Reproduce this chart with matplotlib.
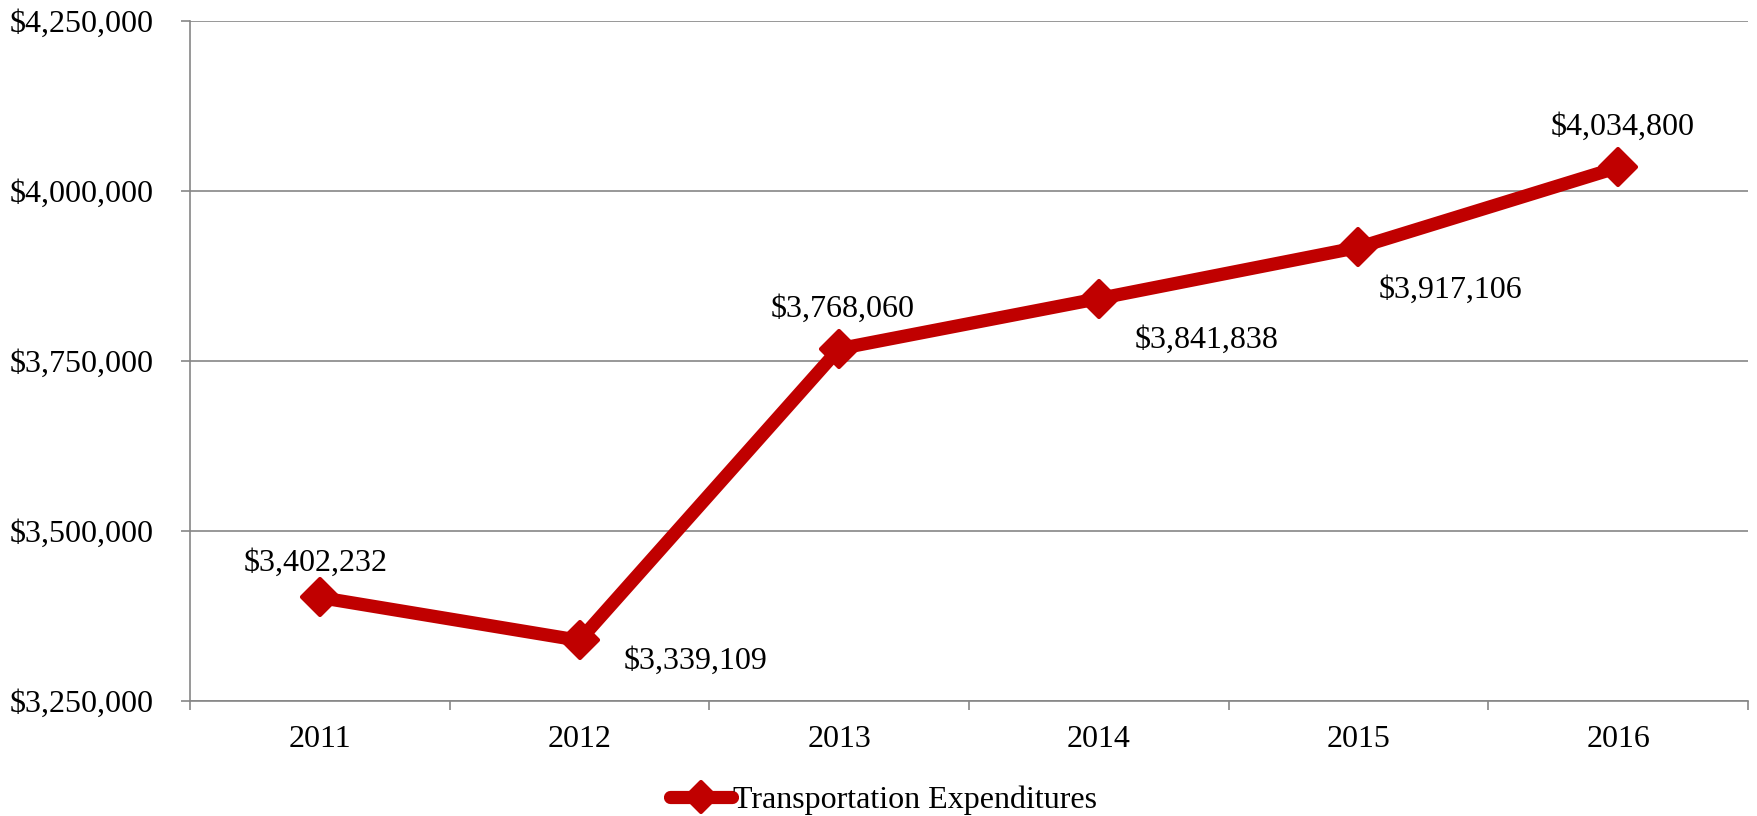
import matplotlib
matplotlib.use("Agg")
import matplotlib.pyplot as plt
from matplotlib.markers import MarkerStyle
from matplotlib.ticker import FuncFormatter, FixedLocator

years = ["2011", "2012", "2013", "2014", "2015", "2016"]
expenditures = [3402232, 3339109, 3768060, 3841838, 3917106, 4034800]
series_name = "Transportation Expenditures"
y_ticks = [3250000, 3500000, 3750000, 4000000, 4250000]

# label offsets in pixels (dx, dy) relative to each marker, baseline-anchored
label_offsets = [(-4, 27), (116, -28), (3, 32), (108, -49), (92, -50), (4, 33)]

RED = "#C00000"
GRAY = "#868686"
FONT = "Liberation Serif"
FS = 23

plt.rcParams["font.family"] = [FONT, "DejaVu Serif"]

fig = plt.figure(figsize=(17.57, 8.16), dpi=100)
ax = fig.add_axes([190 / 1757, 1 - 701 / 816, (1748 - 190) / 1757, (701 - 21) / 816])

x = list(range(len(years)))
mk = MarkerStyle("D", joinstyle="round")
ax.plot(x, expenditures, color=RED, lw=9.5, solid_joinstyle="round", solid_capstyle="round",
        marker=mk, markersize=18.5, markeredgewidth=3, markerfacecolor=RED,
        markeredgecolor=RED, label=series_name, zorder=3)

for xi, v, (dx, dy) in zip(x, expenditures, label_offsets):
    ax.annotate(f"${v:,.0f}", (xi, v), xytext=(dx, dy), textcoords="offset pixels",
                ha="center", va="baseline", fontsize=FS, color="black", zorder=4)

ax.set_xlim(-0.5, len(years) - 0.5)
ax.set_ylim(y_ticks[0], y_ticks[-1])
ax.yaxis.set_major_locator(FixedLocator(y_ticks))
ax.yaxis.set_major_formatter(FuncFormatter(lambda v, p: f"${v:,.0f}"))
ax.set_xticks(x)
ax.set_xticklabels(years)
ax.set_xticks([i - 0.5 for i in range(len(years) + 1)], minor=True)

ax.tick_params(axis="x", which="major", length=0, pad=17, labelsize=FS)
ax.tick_params(axis="x", which="minor", length=6.5, width=1.2, color=GRAY, direction="out")
ax.tick_params(axis="y", which="major", length=6.5, width=1.2, color=GRAY, direction="out",
               pad=19.5, labelsize=FS)

ax.grid(axis="y", color=GRAY, lw=1.2, zorder=0)
ax.set_axisbelow(True)
for s in ["top", "right"]:
    ax.spines[s].set_visible(False)
for s in ["left", "bottom"]:
    ax.spines[s].set_color(GRAY)
    ax.spines[s].set_linewidth(1.2)

leg = fig.legend(loc="center", bbox_to_anchor=(0.5 + 5 / 1757, 1 - 800 / 816), frameon=False,
                 fontsize=FS, handlelength=1.94, handletextpad=0.05, markerscale=0.8,
                 borderaxespad=0, borderpad=0)

fig.savefig("out.png", dpi=100)
